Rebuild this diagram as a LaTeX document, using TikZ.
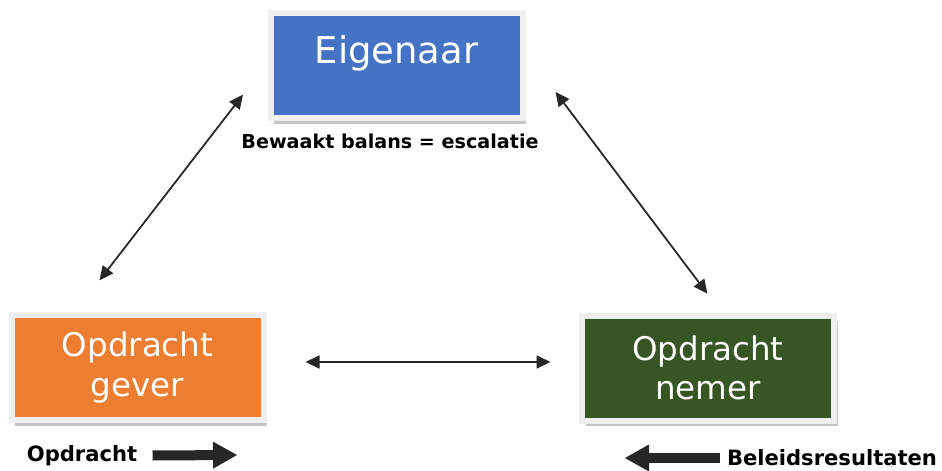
\documentclass[tikz,border=0pt]{standalone}
\usepackage{fontspec}
\setmainfont{DejaVu Sans}
\usetikzlibrary{arrows.meta,shadows}
\definecolor{eigblue}{HTML}{4472C4}
\definecolor{geverorange}{HTML}{ED7D31}
\definecolor{nemergreen}{HTML}{375623}
\definecolor{framegray}{HTML}{EFEFEF}
\tikzset{
  rolebox/.style={draw=framegray, line width=0.12cm, text=white, align=center,
    inner sep=0pt, minimum width=5.04cm, minimum height=2.1cm,
    drop shadow={shadow xshift=0.07cm, shadow yshift=-0.11cm, fill=black!45}},
  lbl/.style={font=\bfseries\fontsize{10.9}{12}\selectfont, inner sep=0pt},
  flowlbl/.style={font=\bfseries\fontsize{12}{14}\selectfont, inner sep=0pt},
  link/.style={black!85, line width=0.035cm,
    {Triangle[length=0.28cm,width=0.26cm]}-{Triangle[length=0.28cm,width=0.26cm]}},
  fatarrow/.style={black!85, line width=0.2cm,
    -{Triangle[length=0.48cm,width=0.54cm,line width=0pt]}}
}
\begin{document}
\begin{tikzpicture}
  \useasboundingbox (0,0) rectangle (18.84,9.4);
  % the three roles
  \node[rolebox, fill=eigblue, font=\fontsize{21}{25}\selectfont,
    text height=0.6cm, text depth=0.7cm] (eig) at (7.93,8.09) {Eigenaar};
  \node[rolebox, fill=geverorange, font=\fontsize{18.5}{22.5}\selectfont] (gever) at (2.75,2.05) {Opdracht\\gever};
  \node[rolebox, fill=nemergreen, font=\fontsize{18.5}{22.5}\selectfont] (nemer) at (14.16,2.04) {Opdracht\\nemer};
  \node[lbl] (bew) at (7.8,6.58) {Bewaakt balans = escalatie};
  \node[flowlbl] (opd) at (1.64,0.29) {Opdracht};
  \node[flowlbl] (bel) at (16.64,0.24) {Beleidsresultaten};
  % relations
  \draw[link, shorten <=0.8cm, shorten >=0.8cm] ([xshift=-1.25cm]gever.north) -- ([yshift=0.05cm]eig.west);
  \draw[link, shorten <=1.0cm, shorten >=0.47cm] ([yshift=0.27cm]eig.east) -- ([xshift=0.27cm]nemer.north);
  \draw[link, shorten <=0.78cm, shorten >=0.57cm] ([yshift=0.11cm]gever.east) -- ([yshift=0.12cm]nemer.west);
  % flows
  \coordinate (opdtip) at (4.74,0.3);
  \coordinate (beltip) at (12.5,0.24);
  \draw[fatarrow] ([xshift=0.3cm]opd.east) -- (opdtip);
  \draw[fatarrow] ([xshift=-0.14cm]bel.west) -- (beltip);
\end{tikzpicture}
\end{document}
